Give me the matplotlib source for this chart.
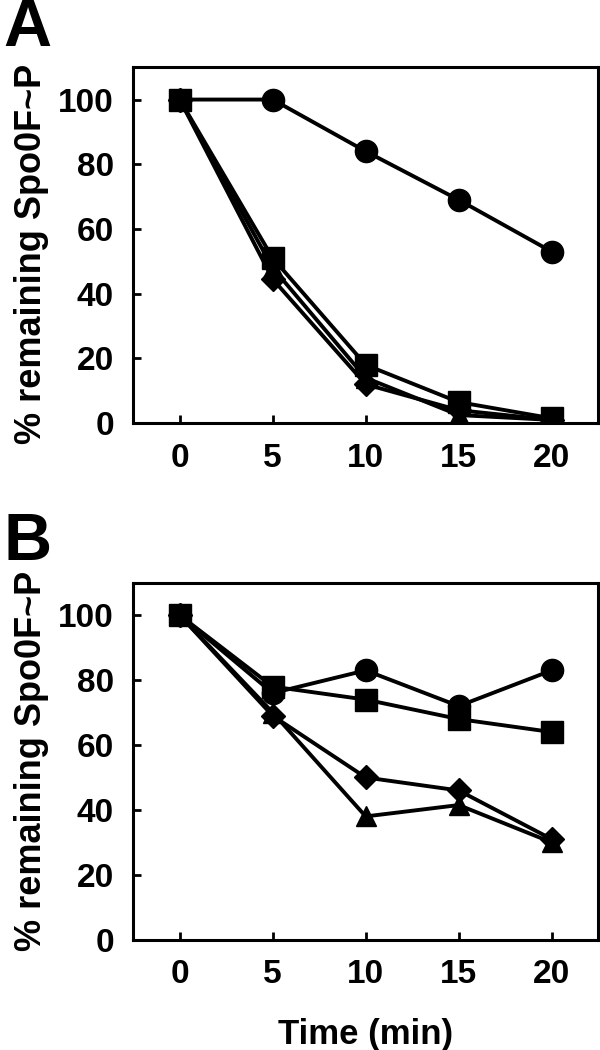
import matplotlib
matplotlib.use("Agg")
import matplotlib.pyplot as plt

plt.rcParams['font.family'] = ['Liberation Sans', 'DejaVu Sans']
plt.rcParams['font.weight'] = 'bold'

# time points (min)
time = [0, 5, 10, 15, 20]

# panel A
a_circle = [100, 100, 84, 69, 53]
a_square = [100, 51, 18, 6.5, 1.5]
a_triangle = [100, 48, 14, 2.5, 1]
a_diamond = [100, 44.5, 12, 4, 1]

# panel B
b_circle = [100, 76, 83, 72, 83]
b_square = [100, 78, 74, 68, 64]
b_triangle = [100, 70, 38, 41.5, 30]
b_diamond = [100, 69, 50, 46, 31]

yticks = [0, 20, 40, 60, 80, 100]
ylabel = '% remaining Spo0F~P'

fig = plt.figure(figsize=(6, 10.5), dpi=100)
axA = fig.add_axes([0.222, 0.597, 0.775, 0.339])
axB = fig.add_axes([0.222, 0.105, 0.775, 0.340])


def draw(ax, circ, sq, tri, dia, label_y):
    ax.plot(time, dia, '-D', color='black', lw=2.8, ms=12)
    ax.plot(time, tri, '-^', color='black', lw=2.8, ms=15)
    ax.plot(time, circ, '-o', color='black', lw=2.8, ms=16)
    ax.plot(time, sq, '-s', color='black', lw=2.8, ms=15.5)
    ax.set_xlim(-2.5, 22.5)
    ax.set_ylim(0, 110)
    ax.set_xticks(time)
    ax.set_yticks(yticks)
    ax.tick_params(direction='in', length=6, width=2, labelsize=24)
    ax.tick_params(axis='x', pad=14)
    ax.tick_params(axis='y', pad=14)
    for s in ax.spines.values():
        s.set_linewidth(2.2)
    for lab in ax.get_xticklabels() + ax.get_yticklabels():
        lab.set_fontweight('bold')
    ax.set_ylabel(ylabel, fontsize=26, fontweight='bold')
    ax.yaxis.set_label_coords(-0.18, label_y)


draw(axA, a_circle, a_square, a_triangle, a_diamond, 0.475)
draw(axB, b_circle, b_square, b_triangle, b_diamond, 0.5)
axB.set_xlabel('Time (min)', fontsize=25, fontweight='bold', labelpad=20)

fig.text(0.005, 1.002, 'A', fontsize=48, fontweight='bold', va='top', ha='left')
fig.text(0.005, 0.512, 'B', fontsize=48, fontweight='bold', va='top', ha='left')

plt.savefig('out.png', dpi=100)
